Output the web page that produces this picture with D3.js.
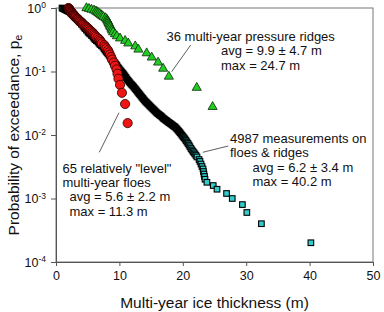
<!DOCTYPE html>
<html><head><meta charset="utf-8">
<script src="https://cdn.jsdelivr.net/npm/d3@7"></script>
<style>
html,body{margin:0;padding:0;background:#fff;}
svg text{font-family:"Liberation Sans",Arial,Helvetica,sans-serif;fill:#111;}
</style></head>
<body><svg id="c" width="384" height="312"></svg>
<script>
// ---- data ----
const xTicks = [0, 10, 20, 30, 40, 50];
const yTickExps = [0, -1, -2, -3, -4];

// 36 multi-year pressure ridges: thickness (m), sorted largest first (rank i -> p = i/36)
const ridgeThickness = [24.7, 22.2, 17.8, 16.9, 16.1, 15.1, 14.3, 13.0, 12.5, 11.4, 10.9, 10.1,
  9.6, 9.3, 9.0, 8.85, 8.75, 8.6, 8.5, 8.4, 8.3, 8.2, 8.1, 8.0, 7.8, 7.5, 7.3, 7.1, 6.9, 6.7,
  6.5, 6.3, 6.0, 5.6, 5.2, 4.8];

// 65 relatively level multi-year floes: thickness (m), largest first (rank i -> p = i/65)
const floeThickness = [11.3, 10.9, 10.4, 10.1, 9.85, 9.7, 9.55, 9.3, 9.1, 8.85, 8.7, 8.5, 8.35,
  8.2, 7.95, 7.75, 7.6, 7.25, 7.1, 6.95, 6.8, 6.55, 6.3, 6.15, 6.0, 5.85, 5.7, 5.5, 5.35, 5.2,
  5.05, 4.9, 4.75, 4.6, 4.4, 4.25, 4.15, 4.1, 3.95, 3.8, 3.7, 3.6, 3.45, 3.4, 3.3, 3.15, 3.05,
  2.95, 2.9, 2.85, 2.75, 2.7, 2.6, 2.5, 2.45, 2.4, 2.35, 2.3, 2.2, 2.2, 2.15, 2.1, 2.05, 2.0, 1.95];

const measThickness = [0.95, 1.10, 1.26, 1.42, 1.58, 1.73, 1.89, 2.05, 2.21, 2.36, 2.52, 2.68,
  2.84, 3.00, 3.15, 3.31, 3.47, 3.63, 3.79, 4.02, 4.26, 4.42, 4.57, 4.81, 5.05, 5.20, 5.36, 5.60,
  5.84, 6.00, 6.15, 6.38, 6.62, 6.78, 6.94, 7.17, 7.41, 7.57, 7.73, 7.88, 8.04, 8.20, 8.36, 8.52,
  8.68, 8.83, 8.99, 9.15, 9.31, 9.46, 9.62, 9.78, 9.94, 10.10, 10.25, 10.41, 10.57, 10.72, 10.88,
  11.04, 11.20, 11.35, 11.51, 11.67, 11.83, 11.99, 12.15, 12.30, 12.46, 12.62, 12.78, 12.93,
  13.09, 13.25, 13.41, 13.56, 13.72, 13.88, 14.04, 14.20, 14.35, 14.51, 14.67, 14.82, 14.98,
  15.14, 15.30, 15.46, 15.62, 15.78, 15.93, 16.09, 16.25, 16.40, 16.56, 16.72, 16.88, 17.03,
  17.19, 17.35, 17.51, 17.66, 17.82, 17.98, 18.14, 18.30, 18.45, 18.61, 18.77, 18.93, 19.09,
  19.25, 19.40, 19.56, 19.72, 19.88, 20.03, 20.19, 20.35, 20.50, 20.66, 20.82, 20.98, 21.13,
  21.29, 21.45, 21.61, 21.77, 21.92, 22.08, 22.24, 22.56, 22.71, 22.87, 23.03, 23.19, 23.26,
  23.34, 23.42, 23.5, 23.8, 24.8, 25.4, 26.9, 27.8, 29.4, 30.1, 32.4, 40.2];
const measProb = [1, 0.982, 0.964, 0.947, 0.930, 0.913, 0.897, 0.881, 0.865, 0.834, 0.804, 0.776,
  0.748, 0.722, 0.696, 0.671, 0.647, 0.618, 0.591, 0.555, 0.521, 0.498, 0.476, 0.447, 0.419,
  0.404, 0.390, 0.369, 0.349, 0.334, 0.319, 0.305, 0.292, 0.279, 0.266, 0.254, 0.243, 0.230,
  0.218, 0.208, 0.199, 0.190, 0.182, 0.172, 0.163, 0.154, 0.146, 0.141, 0.136, 0.130, 0.124,
  0.117, 0.111, 0.106, 0.102, 0.0975, 0.0931, 0.0890, 0.0850, 0.0805, 0.0762, 0.0728, 0.0696,
  0.0665, 0.0636, 0.0613, 0.0591, 0.0565, 0.0540, 0.0516, 0.0493, 0.0471, 0.0450, 0.0430,
  0.0411, 0.0393, 0.0376, 0.0359, 0.0343, 0.0331, 0.0319, 0.0308, 0.0297, 0.0286, 0.0276,
  0.0266, 0.0257, 0.0248, 0.0239, 0.0230, 0.0222, 0.0216, 0.0210, 0.0204, 0.0199, 0.0192,
  0.0185, 0.0180, 0.0175, 0.0170, 0.0166, 0.0161, 0.0157, 0.0153, 0.0149, 0.0145, 0.0141,
  0.0137, 0.0134, 0.0129, 0.0124, 0.0119, 0.0114, 0.0109, 0.0104, 0.00992, 0.00947, 0.00905,
  0.00865, 0.00819, 0.00776, 0.00735, 0.00696, 0.00653, 0.00613, 0.00581, 0.00550, 0.00525,
  0.00502, 0.00476, 0.00451, 0.00411, 0.00383, 0.00349, 0.00319, 0.00292, 0.00266, 0.00243,
  0.00222, 0.00201, 0.00180, 0.00160, 0.00140, 0.00120, 0.00100, 0.000802, 0.000602,
  0.000401, 0.000201];

// ---- chart ----
const svg = d3.select("#c");
const x = d3.scaleLinear().domain([0, 50]).range([56, 373]);
const y = d3.scaleLog().domain([1e-4, 1]).range([262, 8]);
const axisCol = "#555";

// frame
svg.append("rect").attr("x", x(0)).attr("y", y(1)).attr("width", x(50) - x(0)).attr("height", y(1e-4) - y(1))
  .attr("fill", "none").attr("stroke", "#777").attr("stroke-width", 1);

// x axis
const gx = svg.append("g").attr("transform", `translate(0,${y(1e-4)})`)
  .call(d3.axisBottom(x).tickValues(xTicks).tickSize(4).tickPadding(5).tickFormat(d3.format("d")));
gx.select(".domain").attr("stroke", axisCol);
gx.selectAll(".tick line").attr("stroke", axisCol);
gx.selectAll("text").attr("font-size", 12.5).attr("font-family", null).attr("fill", "#111");

// y axis
const gy = svg.append("g").attr("transform", `translate(${x(0)},0)`)
  .call(d3.axisLeft(y).tickValues(yTickExps.map(e => Math.pow(10, e))).tickSize(5).tickPadding(10).tickFormat(""));
gy.select(".domain").attr("stroke", axisCol);
gy.selectAll(".tick line").attr("stroke", axisCol);
gy.selectAll(".tick").each(function(d) {
  const e = Math.round(Math.log10(d));
  const t = d3.select(this).append("text").attr("x", -10).attr("dy", "0.35em")
    .attr("text-anchor", "end").attr("font-size", 12.5).attr("fill", "#111");
  t.append("tspan").text("10");
  t.append("tspan").attr("font-size", 8.5).attr("dy", "-0.55em").text(String(e));
});

// axis titles
svg.append("text").attr("x", (x(0) + x(50)) / 2).attr("y", 308).attr("text-anchor", "middle")
  .attr("font-size", 15.5).text("Multi-year ice thickness (m)");
const yl = svg.append("text").attr("transform", `translate(19,${(y(1) + y(1e-4)) / 2}) rotate(-90)`)
  .attr("text-anchor", "middle").attr("font-size", 15.5);
yl.append("tspan").text("Probability of exceedance, p");
yl.append("tspan").attr("font-size", 11).attr("dy", "0.3em").text("e");

// measurements (squares); dense parts of the curve render black
const meas = measThickness.map((t, i) => ({t, p: measProb[i]})).sort((a, b) => b.p - a.p);
const densFill = d3.scaleLinear().domain([0.9, 1.5, 19.4, 21.4]).range(["#33cccc", "#000", "#000", "#33cccc"]).clamp(true);
const sq = 5.6;
svg.append("g").selectAll("rect").data(meas).join("rect")
  .attr("x", d => x(d.t) - sq / 2).attr("y", d => y(d.p) - sq / 2)
  .attr("width", sq).attr("height", sq)
  .attr("fill", d => densFill(d.t)).attr("stroke", "#000").attr("stroke-width", 1.1);

// floes (red circles)
const floes = floeThickness.map((t, i) => ({t, p: (i + 1) / floeThickness.length})).reverse();
svg.append("g").selectAll("circle").data(floes).join("circle")
  .attr("cx", d => x(d.t)).attr("cy", d => y(d.p)).attr("r", 4.6)
  .attr("fill", "#ee1515").attr("stroke", "#2a0000").attr("stroke-width", 0.8);

// ridges (green triangles)
const ridges = ridgeThickness.map((t, i) => ({t, p: (i + 1) / ridgeThickness.length})).reverse();
const tri = d3.symbol().type(d3.symbolTriangle).size(36);
svg.append("g").selectAll("path").data(ridges).join("path")
  .attr("transform", d => `translate(${x(d.t)},${y(d.p)})`).attr("d", tri)
  .attr("fill", "#22cc22").attr("stroke", "#0a2a0a").attr("stroke-width", 0.8);

// annotations
const ann = svg.append("g").attr("font-size", 13);
function lines(arr) {
  arr.forEach(([tx, px, py]) => ann.append("text").attr("x", px).attr("y", py).text(tx));
}
lines([["36 multi-year pressure ridges", 166.5, 40.7], ["avg = 9.9 \u00b1 4.7 m", 221, 55.2], ["max = 24.7 m", 221, 69.6]]);
lines([["4987 measurements on", 230, 142.7], ["floes & ridges", 230, 157], ["avg = 6.2 \u00b1 3.4 m", 252.5, 171.5], ["max = 40.2 m", 252.5, 186]]);
lines([["65 relatively \"level\"", 62.5, 172.7], ["multi-year floes", 62.5, 186.9], ["avg = 5.6 \u00b1 2.2 m", 69.5, 201.3], ["max = 11.3 m", 69.5, 215.5]]);
const leaders = [[190.7, 45, 171.7, 71.7], [228.3, 146, 202.7, 152.3], [99.3, 152.3, 119, 112.7]];
svg.append("g").selectAll("line").data(leaders).join("line")
  .attr("x1", d => d[0]).attr("y1", d => d[1]).attr("x2", d => d[2]).attr("y2", d => d[3])
  .attr("stroke", "#333").attr("stroke-width", 0.8);
</script></body></html>
